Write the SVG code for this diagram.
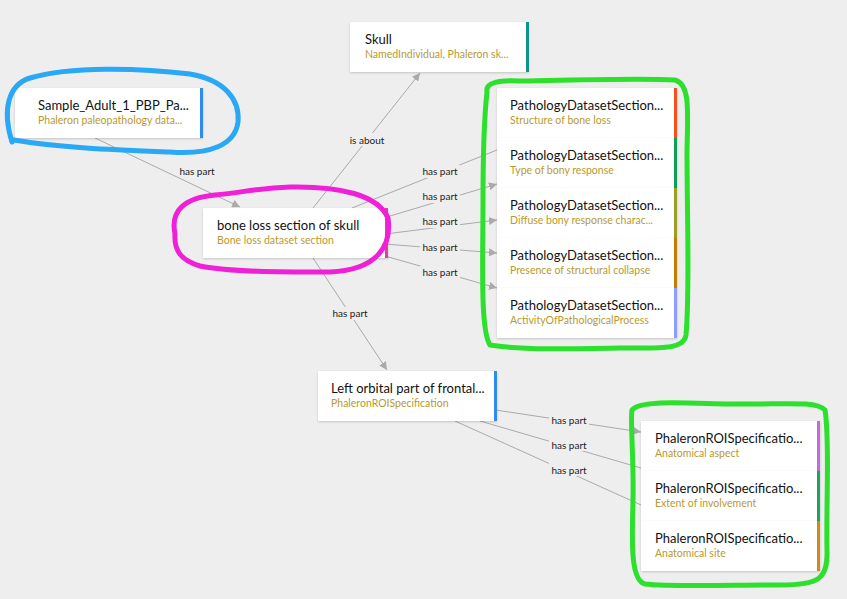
<svg xmlns="http://www.w3.org/2000/svg" width="847" height="599" viewBox="0 0 847 599">
<defs>
<marker id="ar" viewBox="0 0 10 10" refX="10" refY="5" markerWidth="8" markerHeight="8" orient="auto" markerUnits="userSpaceOnUse"><path d="M0,0L10,5L0,10z" fill="#aaa"/></marker>
<filter id="sh" x="-10%" y="-10%" width="120%" height="130%"><feDropShadow dx="0" dy="1" stdDeviation="1.2" flood-color="#000" flood-opacity="0.18"/></filter>
<style>
.n{fill:#fff;filter:url(#sh)}
.t{font-family:Lato,"Open Sans",sans-serif;font-size:13px;fill:#111}
.s{font-family:Lato,"Open Sans",sans-serif;font-size:10.5px;fill:#b99a2e}
.e{stroke:#aaa;stroke-width:1;fill:none}
.l{font-family:Lato,"Open Sans",sans-serif;font-size:10px;fill:#222;text-anchor:middle}
.lb{fill:#eee}
.hand{fill:none;stroke-width:5;stroke-linecap:round}
</style>
</defs>
<rect width="847" height="599" fill="#eeeeee"/>
<g id="connectors">
<path class="e" d="M95,138L240,207" marker-end="url(#ar)"/>
<path class="e" d="M313,208L420,73" marker-end="url(#ar)"/>
<path class="e" d="M352,208L497,150"/>
<path class="e" d="M370,222L497,184" marker-end="url(#ar)"/>
<path class="e" d="M385,234L497,220" marker-end="url(#ar)"/>
<path class="e" d="M385,244L497,253" marker-end="url(#ar)"/>
<path class="e" d="M385,256L497,288" marker-end="url(#ar)"/>
<path class="e" d="M313,258L387,370" marker-end="url(#ar)"/>
<path class="e" d="M489,409L641,432" marker-end="url(#ar)"/>
<path class="e" d="M480,421L641,468"/>
<path class="e" d="M455,421L641,505"/>
<g>
<rect class="lb" x="183" y="165" width="29" height="13"/><text class="l" x="197" y="175">has part</text>
<rect class="lb" x="346" y="133" width="42" height="13"/><text class="l" x="367" y="144">is about</text>
<rect class="lb" x="420" y="165" width="40" height="13"/><text class="l" x="440" y="175">has part</text>
<rect class="lb" x="420" y="190" width="40" height="13"/><text class="l" x="440" y="200">has part</text>
<rect class="lb" x="420" y="215" width="40" height="13"/><text class="l" x="440" y="225">has part</text>
<rect class="lb" x="420" y="241" width="40" height="13"/><text class="l" x="440" y="251">has part</text>
<rect class="lb" x="420" y="266" width="40" height="13"/><text class="l" x="440" y="276">has part</text>
<rect class="lb" x="330" y="307" width="40" height="13"/><text class="l" x="350" y="317">has part</text>
<rect class="lb" x="549" y="413" width="40" height="13"/><text class="l" x="569" y="424">has part</text>
<rect class="lb" x="549" y="438" width="40" height="13"/><text class="l" x="569" y="449">has part</text>
<rect class="lb" x="549" y="463" width="40" height="13"/><text class="l" x="569" y="474">has part</text>
</g>
</g>
<g id="skull"><rect class="n" x="350" y="22" width="179" height="50"/><rect x="526" y="22" width="3" height="50" fill="#0e9488"/><text class="t" x="365" y="44">Skull</text><text class="s" x="365" y="58">NamedIndividual, Phaleron sk...</text></g>
<g id="sample"><rect class="n" x="15" y="88" width="188" height="50"/><rect x="200" y="88" width="3" height="50" fill="#2e8cf0"/><text class="t" x="38" y="110">Sample_Adult_1_PBP_Pa...</text><text class="s" x="38" y="124">Phaleron paleopathology data...</text></g>
<g id="boneloss"><rect class="n" x="203" y="208" width="185" height="50"/><rect x="385" y="208" width="3" height="50" fill="#e040a0"/><text class="t" x="217" y="230">bone loss section of skull</text><text class="s" x="217" y="244">Bone loss dataset section</text></g>
<g id="p1"><rect class="n" x="497" y="88" width="180" height="50"/><rect x="674" y="88" width="3" height="50" fill="#f4511e"/><text class="t" x="510" y="110">PathologyDatasetSection...</text><text class="s" x="510" y="124">Structure of bone loss</text></g>
<g id="p2"><rect class="n" x="497" y="138" width="180" height="50"/><rect x="674" y="138" width="3" height="50" fill="#0f9d58"/><text class="t" x="510" y="160">PathologyDatasetSection...</text><text class="s" x="510" y="174">Type of bony response</text></g>
<g id="p3"><rect class="n" x="497" y="188" width="180" height="50"/><rect x="674" y="188" width="3" height="50" fill="#9e9d24"/><text class="t" x="510" y="210">PathologyDatasetSection...</text><text class="s" x="510" y="224">Diffuse bony response charac...</text></g>
<g id="p4"><rect class="n" x="497" y="238" width="180" height="50"/><rect x="674" y="238" width="3" height="50" fill="#c67c00"/><text class="t" x="510" y="260">PathologyDatasetSection...</text><text class="s" x="510" y="274">Presence of structural collapse</text></g>
<g id="p5"><rect class="n" x="497" y="288" width="180" height="50"/><rect x="674" y="288" width="3" height="50" fill="#8c9eff"/><text class="t" x="510" y="310">PathologyDatasetSection...</text><text class="s" x="510" y="324">ActivityOfPathologicalProcess</text></g>
<g id="leftorbital"><rect class="n" x="318" y="371" width="179" height="50"/><rect x="494" y="371" width="3" height="50" fill="#2e8cf0"/><text class="t" x="331" y="393">Left orbital part of frontal...</text><text class="s" x="331" y="407">PhaleronROISpecification</text></g>
<g id="r1"><rect class="n" x="641" y="421" width="179" height="50"/><rect x="817" y="421" width="3" height="50" fill="#c36bdc"/><text class="t" x="655" y="443">PhaleronROISpecificatio...</text><text class="s" x="655" y="457">Anatomical aspect</text></g>
<g id="r2"><rect class="n" x="641" y="471" width="179" height="50"/><rect x="817" y="471" width="3" height="50" fill="#1aa35a"/><text class="t" x="655" y="493">PhaleronROISpecificatio...</text><text class="s" x="655" y="507">Extent of involvement</text></g>
<g id="r3"><rect class="n" x="641" y="521" width="179" height="50"/><rect x="817" y="521" width="3" height="50" fill="#d08a1b"/><text class="t" x="655" y="543">PhaleronROISpecificatio...</text><text class="s" x="655" y="557">Anatomical site</text></g>
<g id="annotations">
<path class="hand" stroke="#29a8f5" d="M12,142C2,110 8,85 30,78C70,66 140,68 190,74C225,80 240,100 238,122C235,145 210,155 170,152C120,150 60,148 14,140"/>
<path class="hand" stroke="#f020d8" d="M175,234C170,210 185,198 215,195C245,192 260,188 290,187C340,186 378,195 388,218C392,245 378,270 330,272C280,272 230,272 200,266C180,260 174,250 175,234"/>
<path class="hand" stroke="#2de02d" d="M487,92C485,82 500,80 520,81C580,80 640,78 675,80C690,84 688,110 687,150C687,220 690,290 686,335C684,350 660,348 620,348C570,349 520,350 490,345C480,330 483,260 483,200C483,150 485,110 487,92"/>
<path class="hand" stroke="#2de02d" d="M632,410C640,400 680,403 730,404C780,405 815,400 825,410C830,440 826,500 827,550C828,580 818,585 780,585C730,585 670,587 645,584C630,580 632,540 633,500C634,460 630,420 632,410"/>
</g>
</svg>
